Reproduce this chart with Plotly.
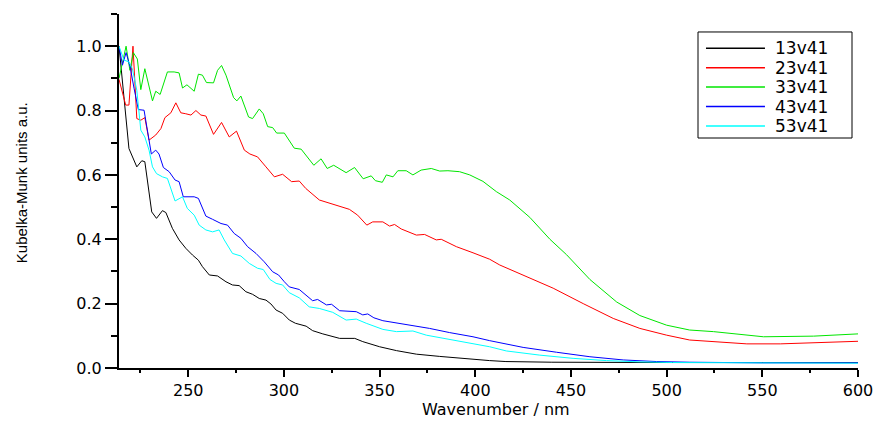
import plotly.graph_objects as go

# ---- data ----
series_names = ["13v41", "23v41", "33v41", "43v41", "53v41"]
series_colors = ["#000000", "#FF0000", "#00E600", "#0000FF", "#00FFFF"]

wl_13 = [213.8, 216.4, 219, 223.1, 225.7, 227.3, 230.9, 233.4, 236.5, 238.3, 241.7, 245.2,
         248.7, 252.2, 255.3, 257.4, 261, 265.3, 269.7, 273.1, 276.6, 280.1, 283.6, 287.1,
         290.6, 293.2, 295.9, 299.3, 302.8, 306, 311.6, 315, 320.3, 329.1, 337, 341.2, 350,
         358.8, 369.2, 381.4, 395.3, 407.5, 416, 440, 500, 550, 600]
km_13 = [1.0, 0.843, 0.682, 0.625, 0.644, 0.641, 0.485, 0.465, 0.489, 0.483, 0.434, 0.398,
         0.372, 0.351, 0.335, 0.315, 0.289, 0.286, 0.268, 0.258, 0.256, 0.237, 0.229, 0.216,
         0.211, 0.199, 0.18, 0.17, 0.149, 0.139, 0.130, 0.116, 0.106, 0.092, 0.092, 0.082, 0.066,
         0.054, 0.043, 0.036, 0.028, 0.023, 0.020, 0.018, 0.017, 0.016, 0.017]

wl_23 = [213.8, 217.3, 219, 221.1, 223.1, 225.2, 227.3, 229.5, 233, 235.7, 237.8, 240.9, 243.5,
         246.1, 248.7, 251.4, 254, 256.6, 259.2, 263.2, 267.4, 271.4, 275.2, 279.3, 282.2, 286.2,
         290.6, 295, 299.3, 304, 308, 311.4, 318.5, 323.7, 330.7, 334.2, 338.5, 343.3, 346.4,
         351.7, 355.2, 357.8, 361.3, 369.2, 373.5, 379.6, 382.2, 390.1, 398.8, 407.5, 412.8,
         426.7, 440.7, 456.4, 472.1, 486, 500, 512, 524.5, 541.9, 559.4, 576.8, 600]
km_23 = [0.897, 0.817, 0.817, 1.0, 0.775, 0.77, 0.778, 0.708, 0.724, 0.744, 0.778, 0.793, 0.824,
         0.793, 0.79, 0.786, 0.80, 0.786, 0.783, 0.726, 0.763, 0.718, 0.736, 0.677, 0.665, 0.656,
         0.625, 0.594, 0.602, 0.579, 0.581, 0.558, 0.522, 0.513, 0.50, 0.493, 0.475, 0.444, 0.454,
         0.454, 0.441, 0.446, 0.432, 0.413, 0.415, 0.398, 0.40, 0.377, 0.358, 0.338, 0.32,
         0.284, 0.248, 0.20, 0.154, 0.123, 0.102, 0.087, 0.082, 0.075, 0.075, 0.079, 0.083]

wl_33 = [213.8, 217.5, 219.5, 221.3, 223.4, 225.2, 227.3, 231.3, 233, 235.3, 239.1, 242.6, 245.2,
         247, 249.3, 253.1, 255.3, 257.4, 259.5, 263.2, 265.3, 267.4, 269.7, 273.7, 275.4, 277.5,
         281.5, 283.6, 287.1, 289.2, 291.5, 294.1, 296.2, 300.2, 305.4, 309, 315.6, 319.4, 322.6,
         326, 332.5, 336.9, 341.4, 345.6, 347.8, 351.4, 353.5, 357, 359.5, 363.9, 367.4, 371.7,
         377, 381.4, 385.7, 391.8, 397.1, 404, 411, 418, 428.5, 433.7, 439, 447.7, 459.9, 473.9,
         486, 500, 512, 524.5, 550.6, 576.8, 600]
km_33 = [0.90, 1.0, 0.925, 0.98, 0.96, 0.865, 0.93, 0.83, 0.86, 0.85, 0.92, 0.92, 0.917,
         0.87, 0.88, 0.86, 0.913, 0.91, 0.887, 0.886, 0.925, 0.94, 0.91, 0.84, 0.83, 0.845,
         0.78, 0.775, 0.805, 0.79, 0.75, 0.747, 0.73, 0.73, 0.683, 0.68, 0.63, 0.65, 0.62,
         0.63, 0.607, 0.623, 0.588, 0.597, 0.582, 0.577, 0.60, 0.594, 0.613, 0.613, 0.60, 0.615,
         0.62, 0.612, 0.613, 0.61, 0.60, 0.58, 0.548, 0.522, 0.468, 0.434, 0.40, 0.352, 0.275, 0.205,
         0.163, 0.133, 0.118, 0.113, 0.097, 0.099, 0.106]

wl_43 = [213.8, 215.6, 217.5, 219.6, 221.7, 223.9, 226.9, 228.6, 230.7, 233, 234.7, 237, 240,
         243.1, 245.2, 247.4, 249.5, 253.1, 255.3, 259.2, 262.7, 267.1, 270.5, 274, 277.5, 281,
         285.4, 289.7, 294.1, 297.2, 300.2, 302.8, 308, 315, 317.6, 322.2, 324.9, 329.1, 337.8,
         341.2, 343.8, 347, 351.7, 360.4, 370.9, 376.1, 386.6, 398.8, 407.5, 425, 442.4, 459.9,
         477.3, 494.8, 512, 550, 600]
km_43 = [1.0, 0.941, 0.98, 0.936, 0.868, 0.803, 0.801, 0.744, 0.665, 0.677, 0.665, 0.623, 0.61,
         0.584, 0.579, 0.532, 0.532, 0.532, 0.527, 0.472, 0.462, 0.449, 0.444, 0.418, 0.403, 0.377,
         0.356, 0.33, 0.299, 0.289, 0.268, 0.252, 0.244, 0.209, 0.213, 0.196, 0.198, 0.178, 0.175,
         0.165, 0.168, 0.156, 0.147, 0.139, 0.128, 0.123, 0.11, 0.097, 0.085, 0.064, 0.049, 0.035,
         0.025, 0.02, 0.018, 0.016, 0.016]

wl_53 = [213.8, 216.4, 219, 220.8, 223.1, 225.2, 227.3, 229.5, 231.3, 233.4, 236.5, 239.1, 243.1,
         247, 249.5, 253.1, 255.7, 259.2, 262.7, 266.1, 268.8, 273.1, 277.5, 281.9, 286.2, 289.2,
         292.7, 295.9, 299.3, 302.8, 308, 313.2, 318.5, 325.5, 332.5, 337.8, 343, 351.7, 358.8,
         367.4, 374.4, 386.6, 398.8, 407.5, 416.2, 433.7, 451.1, 468.6, 486, 503, 550, 600]
km_53 = [1.0, 0.957, 0.951, 0.93, 0.863, 0.739, 0.718, 0.677, 0.625, 0.604, 0.594, 0.589, 0.519,
         0.532, 0.496, 0.475, 0.444, 0.429, 0.423, 0.429, 0.398, 0.356, 0.348, 0.325, 0.31, 0.306,
         0.275, 0.263, 0.258, 0.234, 0.218, 0.19, 0.185, 0.173, 0.149, 0.152, 0.139, 0.12, 0.113,
         0.115, 0.102, 0.089, 0.075, 0.066, 0.053, 0.04, 0.03, 0.023, 0.019, 0.017, 0.016, 0.015]

x_range = [213.8, 600]
y_range = [0, 1.1]
x_title = "Wavenumber / nm"
y_title = "Kubelka-Munk units a.u."

wls = [wl_13, wl_23, wl_33, wl_43, wl_53]
kms = [km_13, km_23, km_33, km_43, km_53]

fig = go.Figure()
for name, color, xs, ys in zip(series_names, series_colors, wls, kms):
    fig.add_trace(go.Scatter(x=xs, y=ys, mode="lines", name=name, showlegend=False,
                             line=dict(color=color, width=1)))

# ---- boxed legend (paper coordinates) ----
leg_x0, leg_x1, leg_y0, leg_y1 = 0.7835, 0.9919, 0.6497, 0.9492
row_top, row_step = 0.9031, 0.0548
sample_x0, sample_x1, label_x = 0.7943, 0.8741, 0.8850

shapes = [dict(type="rect", xref="paper", yref="paper", x0=leg_x0, x1=leg_x1,
               y0=leg_y0, y1=leg_y1, line=dict(color="black", width=1),
               fillcolor="white", layer="above")]
annotations = []
for i, (name, color) in enumerate(zip(series_names, series_colors)):
    yy = row_top - i * row_step
    shapes.append(dict(type="line", xref="paper", yref="paper", x0=sample_x0, x1=sample_x1,
                       y0=yy, y1=yy, line=dict(color=color, width=1.5), layer="above"))
    annotations.append(dict(text=name, xref="paper", yref="paper", x=label_x, y=yy,
                            xanchor="left", yanchor="middle", showarrow=False,
                            font=dict(family="DejaVu Sans", size=17, color="black")))

annotations += [
    dict(text=x_title, xref="paper", yref="paper", x=0.51, y=-0.116,
         xanchor="center", yanchor="middle", showarrow=False,
         font=dict(family="DejaVu Sans", size=16, color="black")),
    dict(text=y_title, xref="paper", yref="paper", x=-0.131, y=0.5226,
         xanchor="center", yanchor="middle", showarrow=False, textangle=-90,
         font=dict(family="Liberation Sans", size=15, color="black")),
]

tick_font = dict(family="DejaVu Sans", size=16, color="black")

fig.update_layout(
    width=879, height=421,
    margin=dict(l=119, r=21, t=14, b=53, autoexpand=False),
    paper_bgcolor="white", plot_bgcolor="white",
    showlegend=False,
    xaxis=dict(range=x_range, showgrid=False, zeroline=False,
               showline=True, linecolor="black", linewidth=2,
               ticks="outside", ticklen=7, tickwidth=2, tickcolor="black",
               tick0=250, dtick=50, tickfont=tick_font,
               minor=dict(ticks="outside", ticklen=3, tickwidth=2, tickcolor="black",
                          dtick=25, showgrid=False)),
    yaxis=dict(range=y_range, showgrid=False, zeroline=False,
               showline=True, linecolor="black", linewidth=2,
               ticks="outside", ticklen=12, tickwidth=2, tickcolor="black",
               tick0=0, dtick=0.2, tickformat=".1f", tickfont=tick_font,
               minor=dict(ticks="outside", ticklen=6, tickwidth=2, tickcolor="black",
                          dtick=0.1, showgrid=False)),
    shapes=shapes,
    annotations=annotations,
)

fig.write_html("out.html")
